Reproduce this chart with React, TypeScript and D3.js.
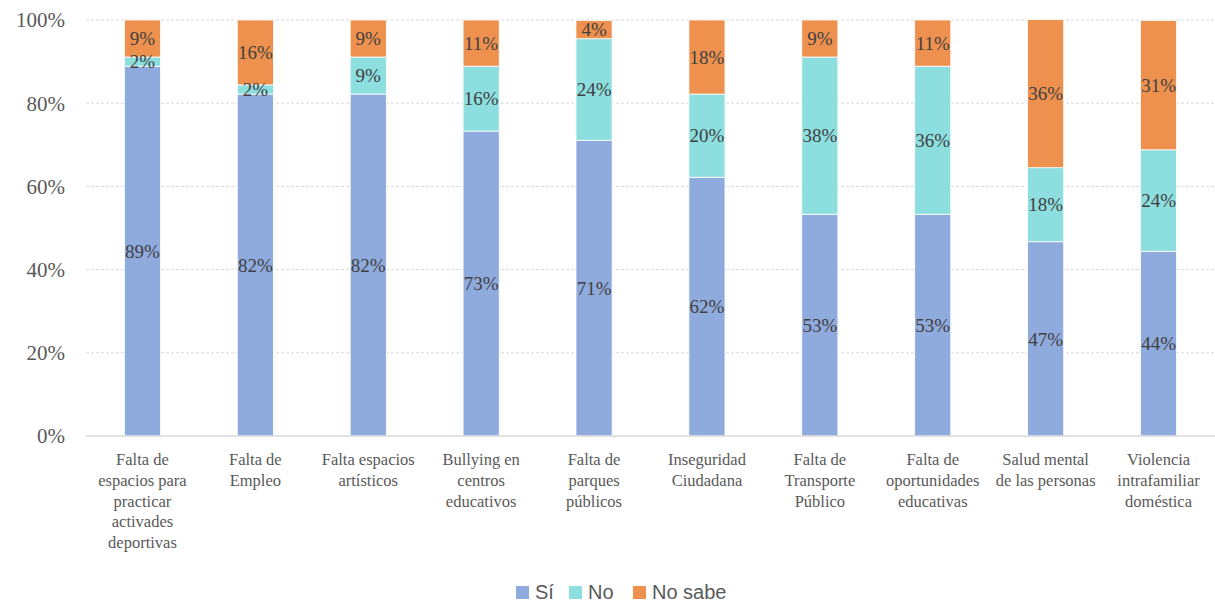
import React from "react";
import * as d3 from "d3";

const categories: string[][] = [
  ["Falta de", "espacios para", "practicar", "activades", "deportivas"],
  ["Falta de", "Empleo"],
  ["Falta espacios", "artísticos"],
  ["Bullying en", "centros", "educativos"],
  ["Falta de", "parques", "públicos"],
  ["Inseguridad", "Ciudadana"],
  ["Falta de", "Transporte", "Público"],
  ["Falta de", "oportunidades", "educativas"],
  ["Salud mental", "de las personas"],
  ["Violencia", "intrafamiliar", "doméstica"],
];

const si = [88.9, 82.2, 82.2, 73.3, 71.1, 62.2, 53.3, 53.3, 46.7, 44.4];
const no = [2.2, 2.2, 8.9, 15.6, 24.4, 20.0, 37.8, 35.6, 17.8, 24.4];
const noSabe = [8.9, 15.6, 8.9, 11.1, 4.4, 17.8, 8.9, 11.1, 35.6, 31.1];

const seriesNames = ["Sí", "No", "No sabe"];
const seriesColors = ["#8FAADC", "#8DDEDF", "#EE914F"];
const yTicks = [0, 20, 40, 60, 80, 100];

const W = 1215;
const H = 603;
const margin = { left: 86, right: 0, top: 20, bottom: 167 };

export default function App() {
  const x = d3
    .scaleBand<number>()
    .domain(d3.range(categories.length))
    .range([margin.left, W - margin.right])
    .paddingInner(0.68)
    .paddingOuter(0.34);
  const y = d3.scaleLinear().domain([0, 100]).range([H - margin.bottom, margin.top]);

  const rows = categories.map((_, i) => ({ i, s0: si[i], s1: no[i], s2: noSabe[i] }));
  const stack = d3.stack<any>().keys(["s0", "s1", "s2"]);
  const layers = stack(rows);

  const legendX = [516, 569, 633];
  const serif = "'Liberation Serif', 'Times New Roman', serif";

  return (
    <svg
      width={W}
      height={H}
      style={{ position: "absolute", left: 0, top: 0, background: "#fff" }}
    >
      {yTicks.map((t) =>
        t === 0 ? null : (
          <line
            key={"g" + t}
            x1={margin.left}
            x2={W - margin.right}
            y1={y(t)}
            y2={y(t)}
            stroke="#D9D9D9"
            strokeWidth={1}
            strokeDasharray="3,2"
          />
        )
      )}
      {yTicks.map((t) => (
        <text
          key={"yt" + t}
          x={65}
          y={y(t)}
          dy="0.35em"
          textAnchor="end"
          fontFamily={serif}
          fontSize={21}
          fill="#595959"
        >
          {t + "%"}
        </text>
      ))}
      {layers.map((layer, li) =>
        layer.map((d, i) => (
          <rect
            key={"r" + li + "-" + i}
            x={x(i)!}
            width={x.bandwidth()}
            y={y(d[1])}
            height={y(d[0]) - y(d[1])}
            fill={seriesColors[li]}
            stroke="#fff"
            strokeWidth={0.8}
          />
        ))
      )}
      <line
        x1={margin.left}
        x2={W - margin.right}
        y1={y(0)}
        y2={y(0)}
        stroke="#D9D9D9"
        strokeWidth={1.5}
      />
      {layers.map((layer, li) =>
        layer.map((d, i) => (
          <text
            key={"l" + li + "-" + i}
            x={x(i)! + x.bandwidth() / 2}
            y={(y(d[0]) + y(d[1])) / 2}
            dy="0.35em"
            textAnchor="middle"
            fontFamily={serif}
            fontSize={19}
            fill="#404040"
          >
            {Math.round(d[1] - d[0]) + "%"}
          </text>
        ))
      )}
      {categories.map((lines, i) => (
        <text
          key={"c" + i}
          x={x(i)! + x.bandwidth() / 2}
          y={465}
          textAnchor="middle"
          fontFamily={serif}
          fontSize={16.5}
          fill="#595959"
        >
          {lines.map((ln, k) => (
            <tspan key={k} x={x(i)! + x.bandwidth() / 2} y={465 + k * 20.8}>
              {ln}
            </tspan>
          ))}
        </text>
      ))}
      {seriesNames.map((n, k) => (
        <g key={"lg" + k}>
          <rect x={legendX[k]} y={586} width={13} height={13} fill={seriesColors[k]} />
          <text
            x={legendX[k] + 19}
            y={598.5}
            fontFamily="'Liberation Sans', Arial, sans-serif"
            fontSize={20}
            fill="#595959"
          >
            {n}
          </text>
        </g>
      ))}
    </svg>
  );
}
